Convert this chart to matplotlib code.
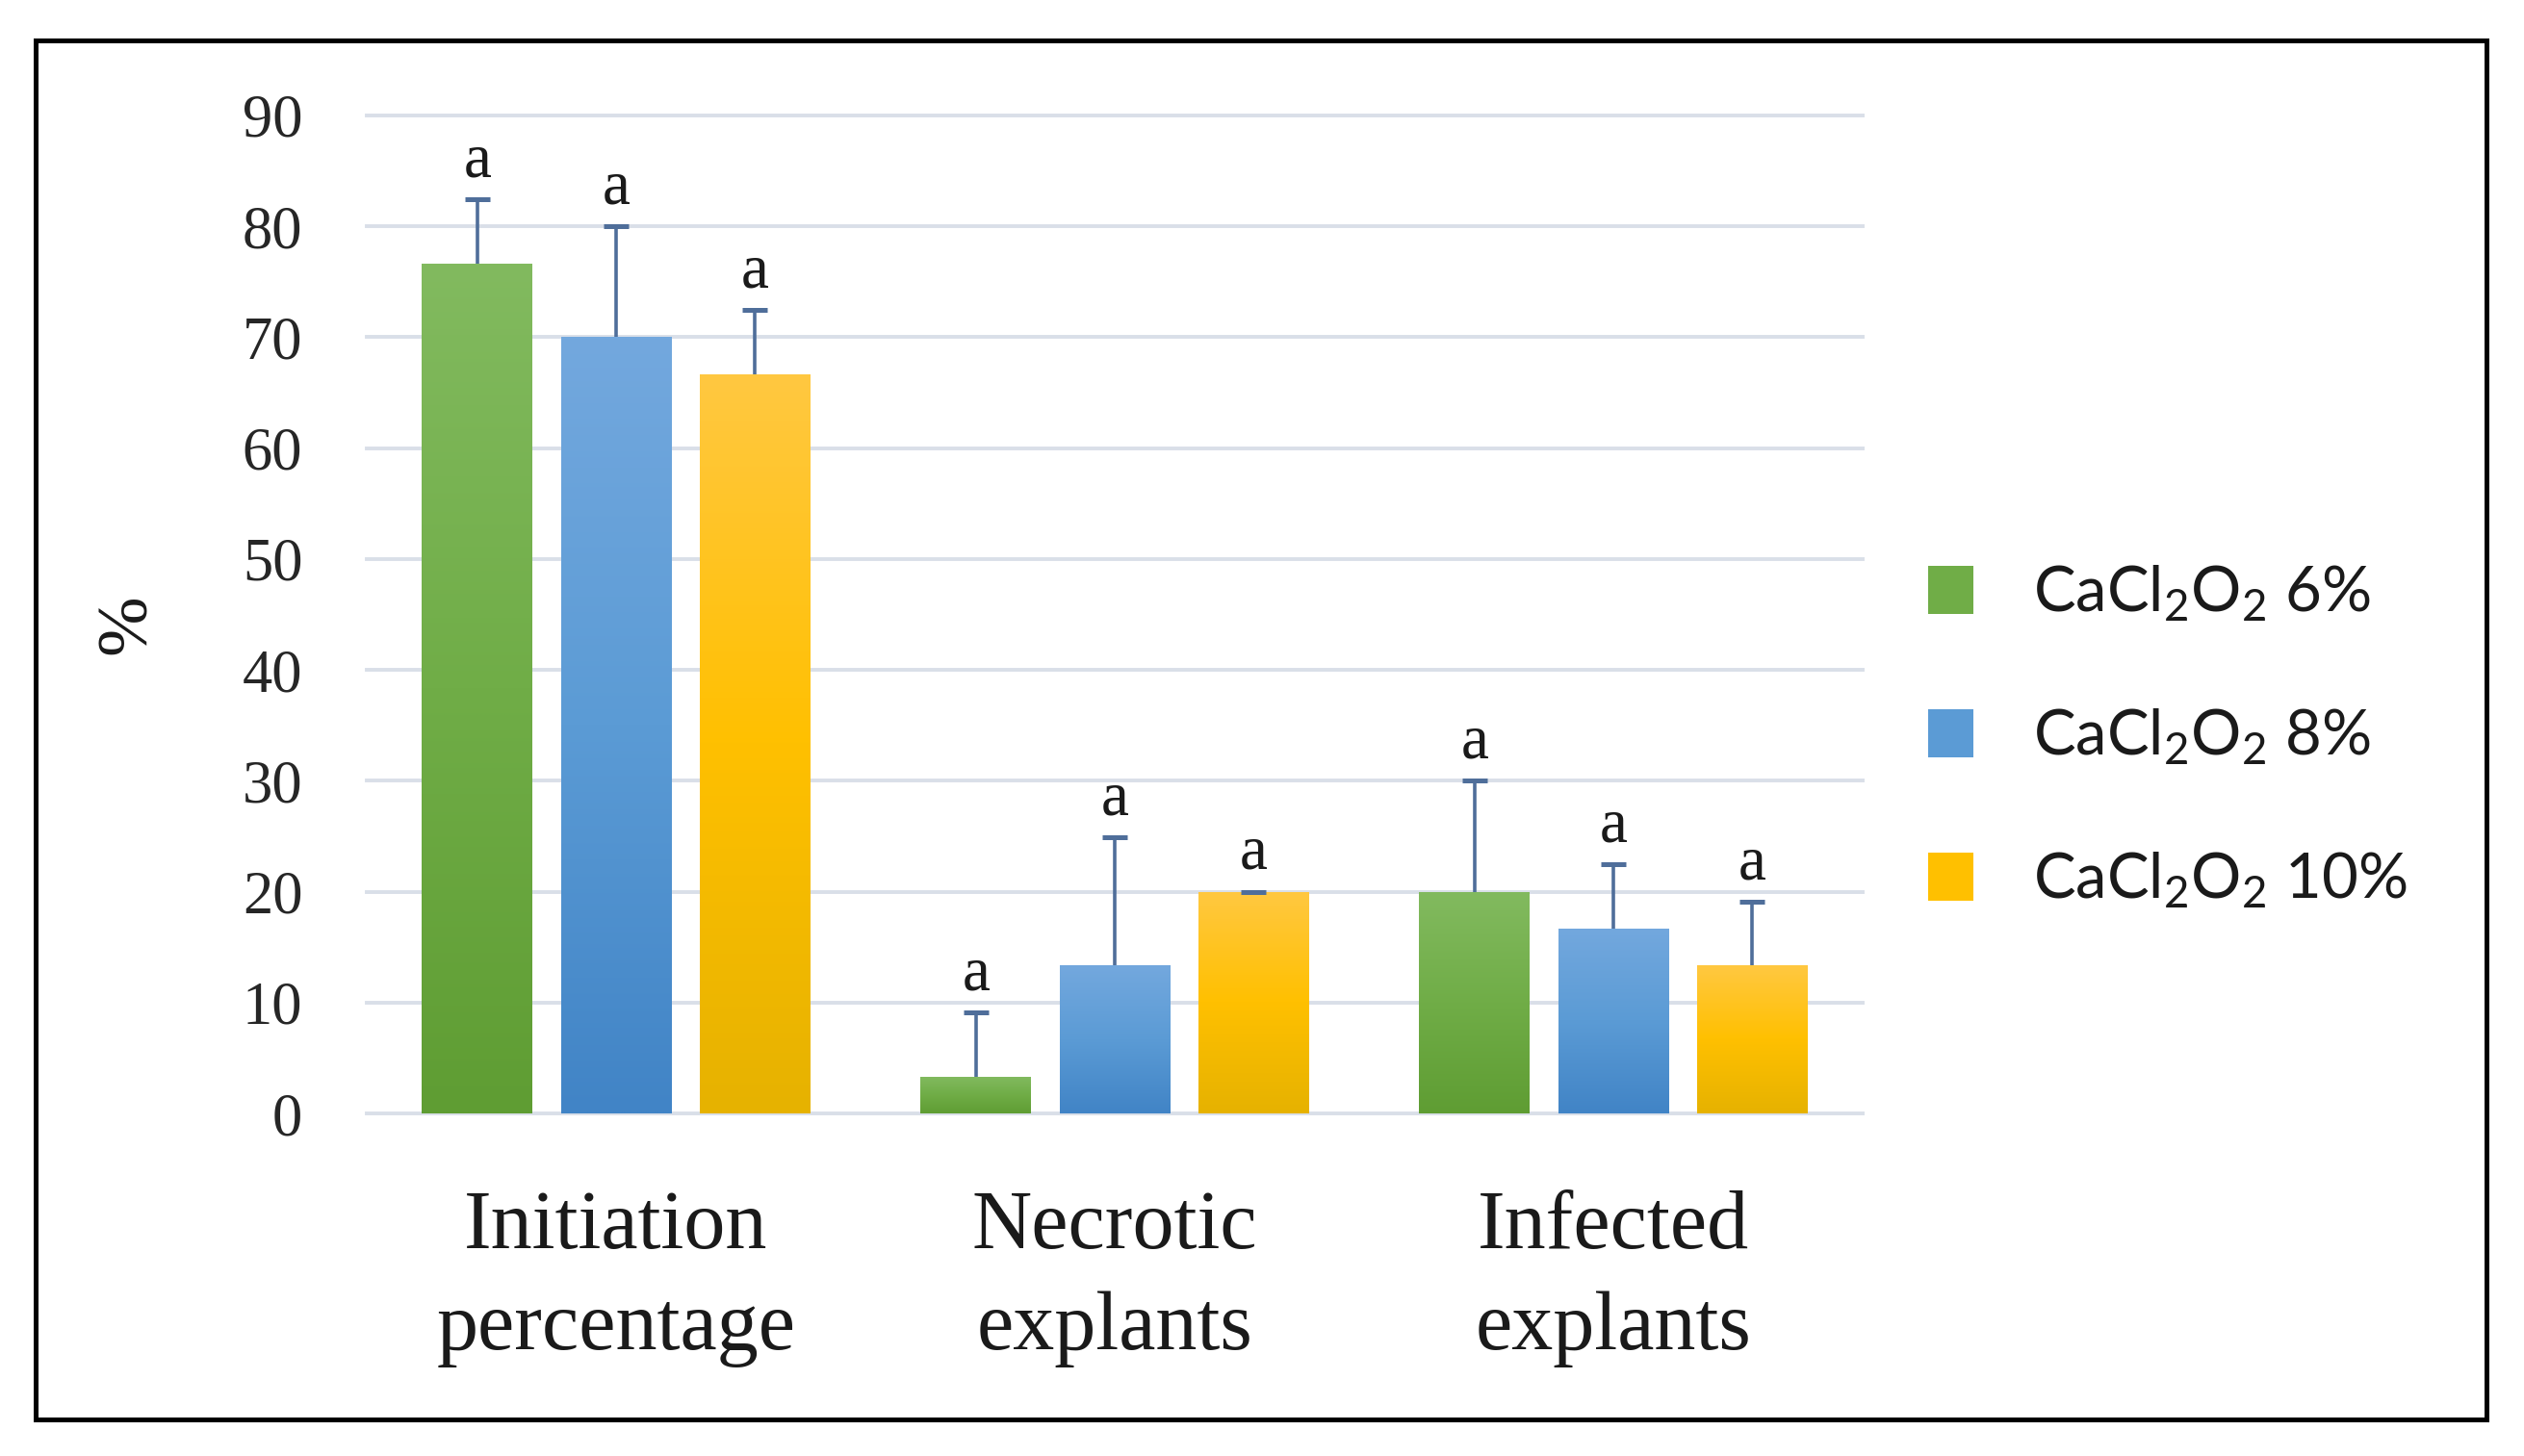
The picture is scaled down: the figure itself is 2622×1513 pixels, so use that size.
import numpy as np
import matplotlib
matplotlib.use("Agg")
import matplotlib.pyplot as plt
from matplotlib.patches import Rectangle
from matplotlib.colors import to_rgb

# ---------------- data ----------------
categories = ["Initiation\npercentage", "Necrotic\nexplants", "Infected\nexplants"]
series_labels = [r"CaCl$_2$O$_2$ 6%", r"CaCl$_2$O$_2$ 8%", r"CaCl$_2$O$_2$ 10%"]
values_6 = [76.67, 3.33, 20.00]
values_8 = [70.00, 13.33, 16.67]
values_10 = [66.67, 20.00, 13.33]
err_6 = [5.77, 5.77, 10.00]
err_8 = [10.00, 11.55, 5.77]
err_10 = [5.77, 0.00, 5.77]
letters_6 = ["a", "a", "a"]
letters_8 = ["a", "a", "a"]
letters_10 = ["a", "a", "a"]
yticks = [0, 10, 20, 30, 40, 50, 60, 70, 80, 90]

# ---------------- style ----------------
plt.rcParams["mathtext.fontset"] = "custom"
plt.rcParams["mathtext.rm"] = "Lato"
plt.rcParams["mathtext.it"] = "Lato:italic"
plt.rcParams["mathtext.bf"] = "Lato:bold"

base_colors = ["#70AD47", "#5B9BD5", "#FFC000"]
top_colors = ["#82BA5F", "#73A8DE", "#FFC841"]
bottom_colors = ["#5F9D33", "#4184C6", "#E6B200"]
err_color = "#4F6E9A"
grid_color = "#D9DFE8"

W, H = 2622, 1513
fig = plt.figure(figsize=(W / 100, H / 100), dpi=100)
ax = fig.add_axes([381 / W, 1 - 1157 / H, (1935 - 381) / W, (1157 - 120) / H])

series = [values_6, values_8, values_10]
errs = [err_6, err_8, err_10]
letters = [letters_6, letters_8, letters_10]
x = np.arange(len(categories))
step = 0.278
width = 0.222

for j in range(3):
    pos = x + (j - 1) * step
    vals = np.array(series[j])
    er = np.array(errs[j])
    bars = ax.bar(pos, vals, width=width, color=base_colors[j], zorder=2,
                  label=series_labels[j], linewidth=0)
    # gradient fill clipped to each bar
    c_top = np.array(to_rgb(top_colors[j]))
    c_mid = np.array(to_rgb(base_colors[j]))
    c_bot = np.array(to_rgb(bottom_colors[j]))
    t = np.linspace(0, 1, 256)[:, None]
    grad = np.where(t < 0.5, c_top + (c_mid - c_top) * (t / 0.5),
                    c_mid + (c_bot - c_mid) * ((t - 0.5) / 0.5))
    grad = grad[:, None, :]
    for b in bars:
        x0, y0 = b.get_x(), b.get_y()
        x1, y1 = x0 + b.get_width(), y0 + b.get_height()
        im = ax.imshow(grad, extent=[x0, x1, y0, y1], origin="upper",
                       aspect="auto", zorder=2.1, interpolation="bilinear")
        im.set_clip_path(b)
    # upper-only error bars with a cap only at the top
    ax.errorbar(pos, vals + er, yerr=[er, np.zeros(3)], fmt="_",
                color=err_color, ecolor=err_color, elinewidth=2.6,
                markersize=19, markeredgewidth=3.6, capsize=0, zorder=3)
    for k in range(3):
        ax.annotate(letters[j][k], (pos[k], vals[k] + er[k]),
                    xytext=(0, 17), textcoords="offset points",
                    ha="center", va="baseline", fontsize=47,
                    family="Liberation Serif", color="#1a1a1a")

ax.set_xlim(-0.5, 2.5)
ax.set_ylim(0, 90)
ax.set_yticks(yticks)
ax.set_yticklabels([str(v) for v in yticks], family="Liberation Serif",
                   fontsize=45, color="#262626")
ax.set_xticks(x)
ax.set_xticklabels(categories, family="Liberation Serif", fontsize=62,
                   color="#1a1a1a", linespacing=1.42)
ax.tick_params(axis="y", length=0, pad=48)
ax.tick_params(axis="x", length=0, pad=57)
for s in ax.spines.values():
    s.set_visible(False)
ax.yaxis.grid(True, color=grid_color, linewidth=2.8, zorder=0)
ax.set_axisbelow(True)
for gl in ax.get_ygridlines():
    gl.set_clip_on(False)

ax.set_ylabel("%", family="Liberation Serif", fontsize=54, color="#1a1a1a")
ax.yaxis.set_label_coords(-0.138, 0.49)

leg = ax.legend(loc="center left", bbox_to_anchor=(2003 / W, 1 - 766 / H),
                bbox_transform=fig.transFigure, frameon=False,
                handlelength=0.72, handleheight=0.8, handletextpad=0.95,
                labelspacing=1.33, borderpad=0, borderaxespad=0,
                prop={"family": "Lato", "size": 47})
for txt in leg.get_texts():
    txt.set_color("#1a1a1a")

# figure frame
fig.patches.append(Rectangle((37 / W, 1 - 1475 / H), (2583 - 37) / W,
                             (1475 - 42) / H, transform=fig.transFigure,
                             fill=False, edgecolor="black", linewidth=3.6))

fig.savefig("out.png", dpi=100)
